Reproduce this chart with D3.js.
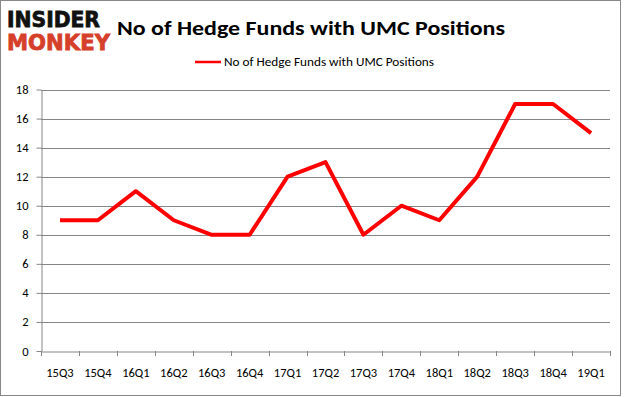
<!DOCTYPE html>
<html>
<head>
<meta charset="utf-8">
<script src="https://cdn.jsdelivr.net/npm/d3@7"></script>
<style>
  body { margin: 0; background: #fff; }
  svg { display: block; }
</style>
</head>
<body>
<svg id="chart" width="626" height="397"></svg>
<script>
const quarters = ['15Q3','15Q4','16Q1','16Q2','16Q3','16Q4','17Q1','17Q2','17Q3','17Q4','18Q1','18Q2','18Q3','18Q4','19Q1'];
const funds = [9, 9, 11, 9, 8, 8, 12, 13, 8, 10, 9, 12, 17, 17, 15];
const yTicks = [0, 2, 4, 6, 8, 10, 12, 14, 16, 18];
const seriesName = 'No of Hedge Funds with UMC Positions';

const svg = d3.select('#chart');
const font = 'Carlito, Calibri, "Open Sans", sans-serif';

// frame
svg.append('rect')
  .attr('x', 0.5).attr('y', 0.5)
  .attr('width', 620).attr('height', 395)
  .attr('fill', 'none').attr('stroke', '#888');

// logo
svg.append('text')
  .attr('x', 7).attr('y', 27)
  .attr('font-family', '"DejaVu Sans", sans-serif')
  .attr('font-weight', 'bold').attr('font-size', 21)
  .attr('textLength', 93).attr('lengthAdjust', 'spacingAndGlyphs')
  .attr('stroke', '#111').attr('stroke-width', 0.8)
  .attr('fill', '#111').text('INSIDER');
svg.append('text')
  .attr('x', 7).attr('y', 50)
  .attr('font-family', '"DejaVu Sans", sans-serif')
  .attr('font-weight', 'bold').attr('font-size', 21)
  .attr('textLength', 103).attr('lengthAdjust', 'spacingAndGlyphs')
  .attr('stroke', '#d6402b').attr('stroke-width', 0.8)
  .attr('fill', '#d6402b').text('MONKEY');

// title
svg.append('text')
  .attr('x', 311).attr('y', 35)
  .attr('text-anchor', 'middle')
  .attr('font-family', font).attr('font-weight', 'bold').attr('font-size', 20)
  .attr('textLength', 388).attr('lengthAdjust', 'spacingAndGlyphs')
  .attr('fill', '#000').text('No of Hedge Funds with UMC Positions');

// legend
svg.append('line')
  .attr('x1', 195).attr('x2', 221).attr('y1', 62).attr('y2', 62)
  .attr('stroke', '#ff0000').attr('stroke-width', 2.5);
svg.append('text')
  .attr('x', 224).attr('y', 66)
  .attr('font-family', font).attr('font-size', 12)
  .attr('textLength', 210).attr('lengthAdjust', 'spacingAndGlyphs')
  .attr('fill', '#000').text(seriesName);

const plotLeft = 41, plotRight = 610, plotTop = 89.5, plotBottom = 351;

const x = d3.scaleBand().domain(quarters).range([plotLeft, plotRight]);
const y = d3.scaleLinear().domain([0, 18]).range([plotBottom, plotTop]);

// gridlines
svg.append('g')
  .selectAll('line')
  .data(yTicks.filter(d => d > 0))
  .enter().append('line')
  .attr('x1', plotLeft).attr('x2', plotRight)
  .attr('y1', d => Math.round(y(d)) + 0.5).attr('y2', d => Math.round(y(d)) + 0.5)
  .attr('stroke', '#868686').attr('stroke-width', 1);

// y axis
const yAxis = svg.append('g')
  .attr('transform', `translate(${plotLeft + 0.5},0)`)
  .call(d3.axisLeft(y).tickValues(yTicks).tickSize(5).tickPadding(8).tickSizeOuter(0));
yAxis.select('.domain').attr('stroke', '#868686');
yAxis.selectAll('.tick line').attr('stroke', '#868686');
yAxis.selectAll('.tick text')
  .attr('font-family', font).attr('font-size', 12.5).attr('fill', '#000');

// x axis
const xAxis = svg.append('g')
  .attr('transform', `translate(0,${plotBottom + 0.5})`)
  .call(d3.axisBottom(x).tickSize(0).tickPadding(17));
xAxis.select('.domain').attr('stroke', '#868686');
xAxis.selectAll('.tick text')
  .attr('font-family', font).attr('font-size', 12.5).attr('fill', '#000');
// category boundary ticks
svg.append('g')
  .selectAll('line')
  .data(quarters.concat(['end']))
  .enter().append('line')
  .attr('x1', (d, i) => Math.round(plotLeft + i * x.step()) + 0.5)
  .attr('x2', (d, i) => Math.round(plotLeft + i * x.step()) + 0.5)
  .attr('y1', plotBottom).attr('y2', plotBottom + 5)
  .attr('stroke', '#868686');

// series line
const line = d3.line()
  .x((d, i) => x(quarters[i]) + x.bandwidth() / 2)
  .y(d => y(d));
svg.append('path')
  .datum(funds)
  .attr('d', line)
  .attr('fill', 'none')
  .attr('stroke', '#ff0000')
  .attr('stroke-width', 4)
  .attr('stroke-linejoin', 'round');
</script>
</body>
</html>
